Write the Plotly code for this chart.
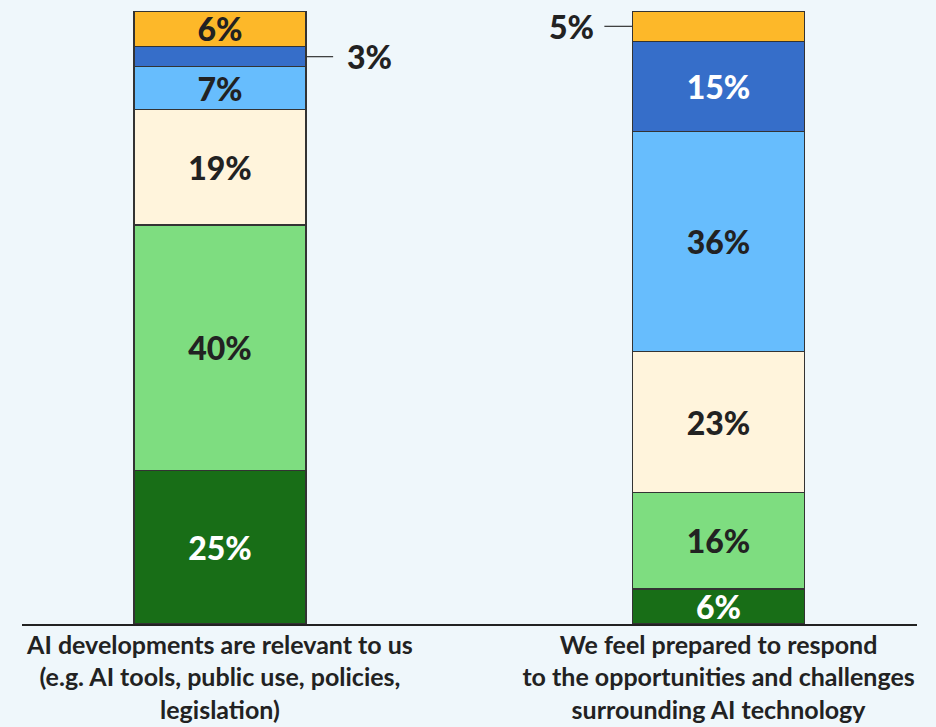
import plotly.graph_objects as go

categories = [
    "AI developments are relevant to us<br>(e.g. AI tools, public use, policies,<br>legislation)",
    "We feel prepared to respond<br>to the opportunities and challenges<br>surrounding AI technology",
]

# segment heights (bottom to top)
seg_dark_green = [25.1, 5.7]
seg_light_green = [40.0, 15.7]
seg_cream = [18.8, 23.0]
seg_light_blue = [7.0, 35.9]
seg_blue = [3.3, 14.7]
seg_orange = [5.8, 5.0]

# printed labels
lab_dark_green = ["25%", "6%"]
lab_light_green = ["40%", "16%"]
lab_cream = ["19%", "23%"]
lab_light_blue = ["7%", "36%"]
lab_blue = ["3%", "15%"]
lab_orange = ["6%", "5%"]

segments = [
    (seg_dark_green, lab_dark_green, "#186e17", "white", [True, True]),
    (seg_light_green, lab_light_green, "#7edd80", "#222222", [True, True]),
    (seg_cream, lab_cream, "#fff4dc", "#222222", [True, True]),
    (seg_light_blue, lab_light_blue, "#67bdfd", "#222222", [True, True]),
    (seg_blue, lab_blue, "#366ec9", "white", [False, True]),
    (seg_orange, lab_orange, "#fdb829", "#222222", [True, False]),
]

FONT = "Lato"
W = 900
NUM = 32
fig = go.Figure()
for vals, labs, col, tcol, show in segments:
    fig.add_trace(go.Bar(
        x=categories, y=vals,
        text=[l if s else "" for l, s in zip(labs, show)],
        textposition="inside", insidetextanchor="middle",
        constraintext="none",
        textfont=dict(family=FONT, size=NUM, color=tcol, weight=W),
        marker=dict(color=col, line=dict(color="#333333", width=1.2)),
        width=0.345, hoverinfo="skip", showlegend=False,
    ))

# outside labels with connector lines
cum1 = sum(v[0] for v in [seg_dark_green, seg_light_green, seg_cream, seg_light_blue])
y3 = cum1 + seg_blue[0] / 2
cum2 = sum(v[1] for v in [seg_dark_green, seg_light_green, seg_cream, seg_light_blue, seg_blue])
y5 = cum2 + seg_orange[1] / 2

fig.add_shape(type="line", xref="x", yref="y", x0=0.1725, x1=0.227, y0=y3, y1=y3,
              line=dict(color="#333333", width=1.2))
fig.add_annotation(x=0.25, y=y3, xref="x", yref="y", text=lab_blue[0], showarrow=False,
                   xanchor="left", yanchor="middle",
                   font=dict(family=FONT, size=NUM, color="#222222", weight=W))
fig.add_shape(type="line", xref="x", yref="y", x0=1 - 0.1725, x1=1 - 0.229, y0=y5, y1=y5,
              line=dict(color="#333333", width=1.2))
fig.add_annotation(x=1 - 0.245, y=y5, xref="x", yref="y", text=lab_orange[1], showarrow=False,
                   xanchor="right", yanchor="middle",
                   font=dict(family=FONT, size=NUM, color="#222222", weight=W))

fig.update_layout(
    barmode="stack",
    width=936, height=727,
    margin=dict(l=22, r=19, t=11, b=103),
    paper_bgcolor="#eff7fb", plot_bgcolor="#eff7fb",
    font=dict(family=FONT, color="#222222"),
    xaxis=dict(range=[-0.397, 1.398], showline=True, linecolor="#222222", linewidth=1.5,
               tickfont=dict(family=FONT, size=25, color="#222222", weight="bold"),
               ticklabelstandoff=-2,
               ticks="", showgrid=False, fixedrange=True, automargin=False),
    yaxis=dict(range=[0, 100], visible=False, showgrid=False, fixedrange=True,
               automargin=False),
)

fig.write_html("out.html",
               config={"displayModeBar": False, "staticPlot": True},
               post_script="document.body.style.margin='0';document.body.style.overflow='hidden';")
